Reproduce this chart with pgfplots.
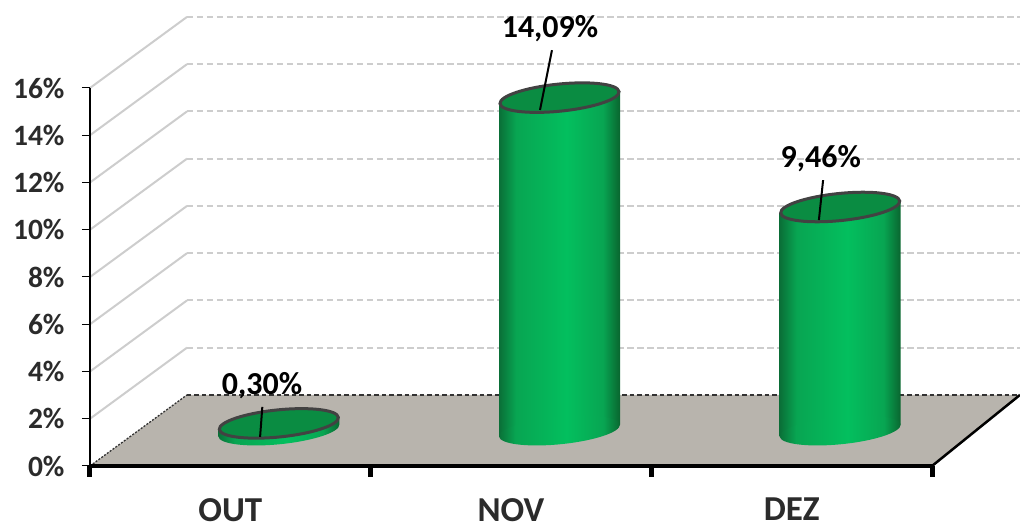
\documentclass[border=0pt]{standalone}
\usepackage{fontspec}
\setmainfont{Carlito}
\usepackage{pgfplots}
\pgfplotsset{compat=1.18}

\definecolor{cyla}{HTML}{0A6F37}
\definecolor{cylb}{HTML}{08A552}
\definecolor{cylc}{HTML}{03BF5E}
\definecolor{cyld}{HTML}{09652F}
\definecolor{lidgreen}{HTML}{0A8C42}
\definecolor{rim}{HTML}{424242}
\definecolor{floorgray}{HTML}{B8B4AD}
\definecolor{wallgray}{HTML}{CDCDCD}
\definecolor{ticktext}{HTML}{2B2B2B}

% body of a cylinder, stops 25-75 fit the path
\pgfdeclarehorizontalshading{cyl}{100bp}{color(0bp)=(cyla); color(25bp)=(cyla); color(32bp)=(cylb); color(53bp)=(cylc); color(68bp)=(cylb); color(75bp)=(cyld); color(100bp)=(cyld)}

\pgfdeclareplotmark{cyllid}{%
  \pgfpathellipse{\pgfpointorigin}{\pgfpoint{59.5pt}{6pt}}{\pgfpoint{-1.3pt}{13.5pt}}%
  \pgfusepathqfillstroke}
\pgfdeclareplotmark{cylfoot}{%
  \pgfpathellipse{\pgfpointorigin}{\pgfpoint{60.5pt}{6pt}}{\pgfpoint{-1.3pt}{13.7pt}}%
  \pgfshadepath{cyl}{0}\pgfusepath{discard}}

\tikzset{
  depth/.style={xshift=48.5pt, yshift=35.5pt},
  % #1 = bar centre in pt from the axis origin
  body/.style={ybar, bar width=121pt, bar shift=0pt, draw=none, shade, shading=cyl,
    xshift=48.5pt, yshift={35.5pt-0.1*#1pt}, yslant=0.1},
  foot/.style={only marks, mark=cylfoot, depth},
  lid/.style={only marks, mark=cyllid, depth,
    mark options={fill=lidgreen, draw=rim, line width=3pt}},
  leader/.style={black, line width=2pt},
  datalabel/.style={font=\fontsize{32}{32}\selectfont\bfseries, text=black, inner sep=0pt},
}

\begin{document}
\begin{tikzpicture}
\useasboundingbox (-90pt,-63pt) rectangle (930pt,466pt);
\begin{axis}[
    scale only axis,
    width=842pt, height=378pt,
    xmin=0, xmax=3,
    ymin=0, ymax=16,
    clip=false,
    axis on top,
    axis x line*=bottom,
    axis y line*=left,
    x axis line style={line width=4pt, -},
    y axis line style={line width=2pt, -},
    tick align=outside,
    ytick={0,2,...,16},
    yticklabels={0\%,2\%,4\%,6\%,8\%,10\%,12\%,14\%,16\%},
    y tick style={black, line width=1pt},
    major tick length=8pt,
    xtick={0.5,1.5,2.5},
    xticklabels={OUT,NOV,DEZ},
    x tick style={draw=none},
    minor xtick={0,1,2,3},
    minor x tick style={draw=black, line width=5pt},
    minor tick length=11pt,
    ticklabel style={font=\fontsize{29.5}{30}\selectfont\bfseries, text=ticktext},
    yticklabel style={xshift=-14pt},
    xticklabel style={inner sep=0pt, yshift=-24pt, font=\fontsize{35}{35}\selectfont\bfseries},
    unbounded coords=jump,
]
% side wall lines
\addplot[wallgray, line width=2pt] coordinates {
    (0,2) (0.3456,5.0085) (nan,nan)
    (0,4) (0.3456,7.0085) (nan,nan)
    (0,6) (0.3456,9.0085) (nan,nan)
    (0,8) (0.3456,11.0085) (nan,nan)
    (0,10) (0.3456,13.0085) (nan,nan)
    (0,12) (0.3456,15.0085) (nan,nan)
    (0,14) (0.3456,17.0085) (nan,nan)
    (0,16) (0.3456,19.0085)
};
% back wall lines
\addplot[wallgray, line width=2pt, dash pattern=on 6.5pt off 3.5pt] coordinates {
    (0.3456,5.0085) (3.3135,5.0085) (nan,nan)
    (0.3456,7.0085) (3.3135,7.0085) (nan,nan)
    (0.3456,9.0085) (3.3135,9.0085) (nan,nan)
    (0.3456,11.0085) (3.3135,11.0085) (nan,nan)
    (0.3456,13.0085) (3.3135,13.0085) (nan,nan)
    (0.3456,15.0085) (3.3135,15.0085) (nan,nan)
    (0.3456,17.0085) (3.3135,17.0085) (nan,nan)
    (0.3456,19.0085) (3.3135,19.0085)
};
% floor
\addplot[fill=floorgray, draw=none] coordinates {
    (0,0) (0.3456,3.0085) (3.3135,3.0085) (3,0)
} \closedcycle;
\addplot[black!80, line width=1.3pt, dash pattern=on 2pt off 1.5pt] coordinates {(0,0) (0.3456,3.0085)};
\addplot[black!80, line width=1.3pt, dash pattern=on 4.5pt off 3pt] coordinates {(0.3456,3.0085) (3.3135,3.0085)};
\addplot[black, line width=2.5pt] coordinates {(3,0) (3.3135,3.0085)};

% OUT
\addplot[foot] coordinates {(0.5,0)};
\addplot[body=140.33] coordinates {(0.5,0.30)};
\addplot[lid] coordinates {(0.5,0.30)};
% NOV
\addplot[foot] coordinates {(1.5,0)};
\addplot[body=421] coordinates {(1.5,14.09)};
\addplot[lid] coordinates {(1.5,14.09)};
% DEZ
\addplot[foot] coordinates {(2.5,0)};
\addplot[body=701.67] coordinates {(2.5,9.46)};
\addplot[lid] coordinates {(2.5,9.46)};

\coordinate (outa) at (axis cs:0.606,1.23);
\coordinate (outb) at (axis cs:0.614,2.5);
\coordinate (nova) at (axis cs:1.6033,15.07);
\coordinate (novb) at (axis cs:1.646,17.6);
\coordinate (deza) at (axis cs:2.597,10.41);
\coordinate (dezb) at (axis cs:2.612,12.1);
\node[datalabel] at (axis cs:0.6130,3.42) {0,30\%};
\node[datalabel] at (axis cs:1.6390,18.50) {14,09\%};
\node[datalabel] at (axis cs:2.6040,13.00) {9,46\%};
\end{axis}
% marks land on top of anything inside the axis, so the leaders go out here
\draw[leader] (outa) -- (outb);
\draw[leader] (nova) -- (novb);
\draw[leader] (deza) -- (dezb);
\end{tikzpicture}
\end{document}
